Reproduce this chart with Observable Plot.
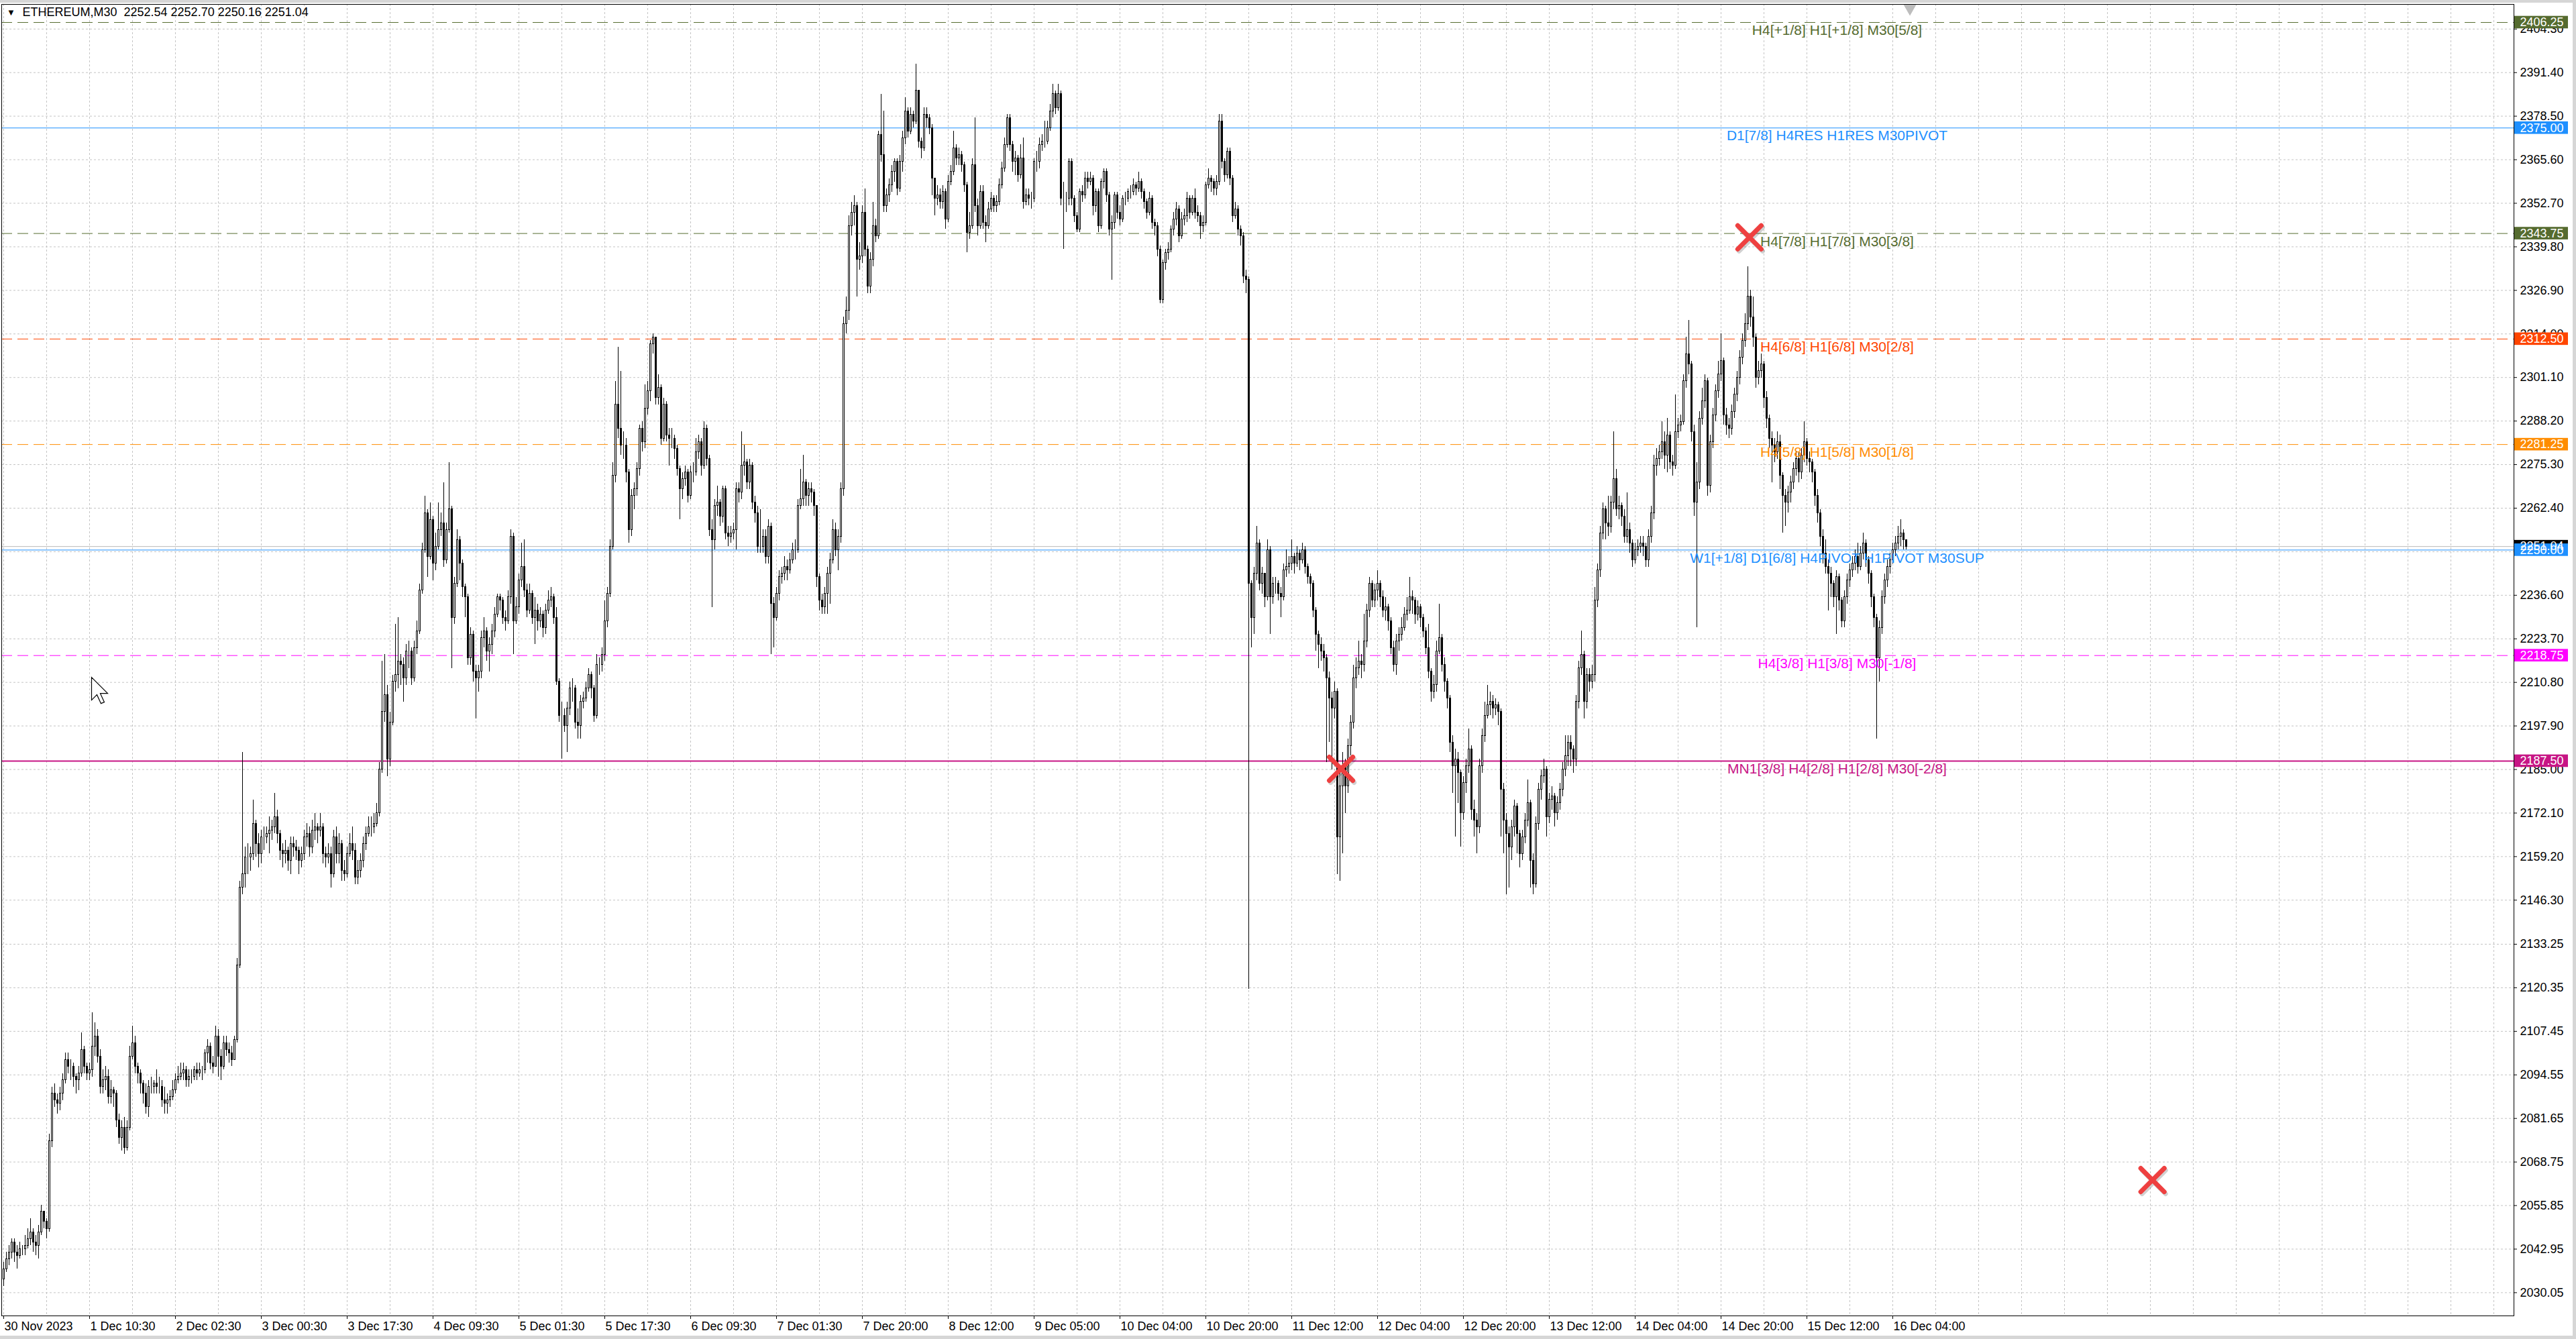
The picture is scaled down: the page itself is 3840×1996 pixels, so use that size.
<!DOCTYPE html>
<html><head><meta charset="utf-8">
<script src="https://cdn.jsdelivr.net/npm/d3@7"></script>
<script src="https://cdn.jsdelivr.net/npm/@observablehq/plot@0.6"></script>
<style>
html,body{margin:0;padding:0;background:#fff;}
#wrap{position:relative;width:3840px;height:1996px;overflow:hidden;background:#fff;}
#wrap svg{display:block;}
.edge{position:absolute;background:#d6d6d6;}
</style></head><body><div id="wrap"></div>
<script>
// ---------- text / labels ----------
const title = "ETHEREUM,M30\u00a0 2252.54 2252.70 2250.16 2251.04";
const timeLabels = ["30 Nov 2023","1 Dec 10:30","2 Dec 02:30","3 Dec 00:30","3 Dec 17:30","4 Dec 09:30","5 Dec 01:30","5 Dec 17:30","6 Dec 09:30","7 Dec 01:30","7 Dec 20:00","8 Dec 12:00","9 Dec 05:00","10 Dec 04:00","10 Dec 20:00","11 Dec 12:00","12 Dec 04:00","12 Dec 20:00","13 Dec 12:00","14 Dec 04:00","14 Dec 20:00","15 Dec 12:00","16 Dec 04:00"];
const candlesPerLabel = 32;
const candlesPerGrid = 16;
const priceTicks = [2404.30,2391.40,2378.50,2365.60,2352.70,2339.80,2326.90,2314.00,2301.10,2288.20,2275.30,2262.40,2249.50,2236.60,2223.70,2210.80,2197.90,2185.00,2172.10,2159.20,2146.30,2133.25,2120.35,2107.45,2094.55,2081.65,2068.75,2055.85,2042.95,2030.05];

// Murrey-math levels
const levelPrices = [2406.25,2375.00,2343.75,2312.50,2281.25,2250.00,2218.75,2187.50];
const levelNames = ["H4[+1/8] H1[+1/8] M30[5/8]","D1[7/8] H4RES H1RES M30PIVOT","H4[7/8] H1[7/8] M30[3/8]","H4[6/8] H1[6/8] M30[2/8]","H4[5/8] H1[5/8] M30[1/8]","W1[+1/8] D1[6/8] H4PIVOT H1PIVOT M30SUP","H4[3/8] H1[3/8] M30[-1/8]","MN1[3/8] H4[2/8] H1[2/8] M30[-2/8]"];
const levelLabelCandle = 683.25;
const bidPrice = 2251.04;

// arrow markers (candle index, price)
const crossCandles = [650.6, 498.4, 800.8];
const crossPrices = [2342.6, 2185.2, 2063.4];
const shiftCandle = 710.4;
const cursorCandle = 32.75, cursorPrice = 2212.3;

// ---------- candles: [close, high, low]; open = previous close ----------
const firstOpen = 2034;
const nov30_dec3 = [
[2037,2039,2032],[2040,2042,2036],[2042,2044,2038],[2045,2046,2040],[2042,2046,2039],[2041,2044,2037],[2043,2045,2040],[2043,2044,2041],[2044,2047,2041],[2046,2049,2043],
[2048,2052,2044],[2045,2049,2042],[2044,2047,2041],[2048,2050,2040],[2054,2056,2047],[2051,2054,2049],[2049,2052,2046],[2075,2077,2048],[2089,2091,2073],[2087,2092,2085],
[2086,2089,2083],[2089,2091,2084],[2093,2095,2087],[2099,2101,2092],[2097,2101,2095],[2097,2099,2093],[2094,2098,2091],[2093,2095,2089],[2095,2097,2090],[2102,2107,2094],
[2097,2103,2095],[2095,2098,2093],[2096,2098,2093],[2103,2113,2094],[2106,2110,2100],[2100,2108,2098],[2091,2102,2089],[2093,2096,2089],[2094,2097,2090],[2088,2096,2086],
[2090,2093,2086],[2089,2091,2085],[2081,2090,2079],[2076,2083,2074],[2079,2081,2072],[2073,2082,2071],[2079,2081,2072],[2100,2103,2078],[2104,2109,2099],[2097,2106,2095],
[2095,2098,2092],[2092,2096,2089],[2089,2093,2086],[2085,2092,2083],[2091,2093,2082],[2091,2094,2089],[2092,2093,2089],[2091,2096,2089],[2091,2094,2089],[2087,2093,2085],
[2086,2091,2083],[2087,2089,2083],[2088,2090,2085],[2090,2093,2087],[2093,2095,2089],[2094,2097,2092],[2095,2098,2093],[2096,2098,2093],[2093,2097,2091],[2094,2096,2091],
[2094,2096,2092],[2096,2097,2093],[2095,2098,2093],[2096,2098,2094],[2096,2097,2093],[2101,2102,2095],[2103,2105,2098],[2098,2104,2096],[2097,2100,2095],[2106,2109,2098],
[2100,2108,2094],[2097,2102,2093],[2104,2106,2096],[2102,2106,2100],[2101,2104,2098],[2099,2103,2097],[2105,2106,2099],[2127,2129,2104],[2150,2152,2126],[2154,2190,2148],
[2159,2162,2150],[2159,2163,2154],[2160,2162,2155],[2169,2176,2158],[2163,2170,2159],[2160,2166,2156],[2165,2167,2157],[2165,2168,2161],[2166,2168,2163],[2167,2171,2160],
[2168,2170,2164],[2171,2178,2166],[2166,2173,2163],[2161,2167,2158],[2160,2163,2156],[2161,2164,2157],[2158,2162,2155],[2163,2165,2154],[2162,2165,2159],[2161,2164,2158],
[2158,2162,2154],[2160,2162,2156],[2165,2167,2158],[2166,2169,2162],[2162,2168,2159],[2167,2170,2160],[2168,2172,2164],[2167,2169,2163],[2168,2172,2165],[2160,2169,2157],
[2159,2162,2156],[2160,2163,2157],[2154,2162,2150],[2165,2167,2153],[2160,2168,2157],[2163,2166,2157],[2155,2164,2152],[2154,2158,2152],[2160,2162,2153],[2163,2166,2159],
[2161,2168,2158],[2153,2163,2151],[2155,2158,2151],[2158,2160,2153],[2163,2165,2156],[2166,2168,2161],[2168,2171,2165],[2168,2171,2165],[2169,2172,2166],[2172,2175,2168],
[2185,2187,2171]
];
const dec3_dec7 = [
[2202,2217,2184],[2207,2219,2199],[2188,2210,2183],[2199,2202,2186],[2211,2213,2198],[2213,2228,2208],[2217,2230,2209],[2216,2219,2210],[2212,2218,2205],[2220,2222,2210],
[2220,2223,2215],[2212,2221,2210],[2221,2223,2211],[2226,2229,2219],[2238,2240,2225],[2250,2252,2237],[2261,2266,2249],[2248,2262,2242],[2259,2264,2247],[2246,2260,2241],
[2251,2255,2244],[2256,2264,2250],[2258,2261,2254],[2247,2270,2245],[2256,2258,2246],[2262,2276,2255],[2230,2263,2215],[2240,2242,2228],[2253,2256,2239],[2246,2254,2241],
[2239,2247,2236],[2236,2240,2230],[2218,2237,2216],[2225,2227,2216],[2214,2226,2211],[2212,2216,2200],[2214,2216,2208],[2224,2226,2212],[2226,2230,2221],[2220,2227,2217],
[2222,2224,2214],[2226,2228,2219],[2231,2233,2224],[2236,2237,2230],[2235,2237,2232],[2230,2236,2228],[2229,2232,2226],[2236,2238,2228],[2254,2256,2234],[2229,2255,2219],
[2233,2236,2228],[2241,2243,2231],[2245,2252,2239],[2238,2253,2236],[2232,2240,2230],[2237,2240,2231],[2230,2238,2228],[2232,2236,2222],[2229,2234,2226],[2231,2233,2227],
[2227,2232,2224],[2232,2234,2225],[2235,2238,2231],[2236,2239,2233],[2230,2237,2228],[2211,2233,2210],[2201,2212,2199],[2201,2205,2188],[2198,2203,2196],[2203,2205,2190],
[2209,2211,2201],[2209,2212,2205],[2199,2210,2197],[2198,2203,2194],[2205,2207,2194],[2206,2208,2203],[2209,2211,2205],[2213,2215,2208],[2209,2214,2206],[2201,2210,2199],
[2216,2219,2200],[2216,2218,2213],[2219,2221,2214],[2229,2235,2217],[2237,2239,2227],[2251,2253,2236],[2272,2276,2250],[2293,2300,2270],[2286,2310,2283],[2281,2303,2278],
[2281,2285,2277],[2273,2283,2270],[2256,2274,2252],[2266,2268,2254],[2268,2270,2262],[2274,2276,2266],[2286,2287,2272],[2282,2288,2279],[2292,2299,2280],[2297,2300,2290],
[2311,2312,2294],[2313,2314,2308],[2295,2313,2293],[2298,2302,2293],[2283,2299,2281],[2293,2295,2282],[2284,2294,2282],[2283,2286,2275],[2283,2286,2280],[2280,2284,2277],
[2274,2281,2272],[2268,2275,2259],[2271,2273,2265],[2273,2275,2269],[2266,2274,2264],[2273,2275,2265],[2273,2276,2270],[2279,2283,2272],[2282,2284,2277],[2275,2283,2272],
[2286,2288,2274],[2277,2287,2275],[2256,2278,2254],[2253,2259,2233],[2263,2265,2250],[2264,2269,2260],[2260,2265,2257],[2268,2269,2258],[2255,2269,2253],[2254,2257,2251],
[2255,2257,2252],[2256,2258,2253],[2268,2270,2250],[2267,2270,2264],[2275,2285,2265],[2276,2281,2272],[2270,2277,2268],[2275,2277,2268],[2264,2276,2262],[2261,2266,2258],
[2251,2263,2249],[2251,2262,2249],[2254,2256,2249],[2248,2256,2246],[2257,2259,2246],[2234,2258,2219],[2230,2236,2221],[2237,2239,2229],[2242,2244,2235],[2243,2245,2240],
[2245,2248,2241],[2244,2247,2241],[2247,2249,2243],[2250,2252,2246],[2250,2253,2247],[2263,2265,2249],[2265,2274,2262],[2270,2278,2263],[2266,2271,2263],[2268,2270,2263],
[2267,2270,2264],[2263,2268,2260],[2242,2248,2239],[2235,2243,2232],[2233,2237,2231],[2237,2239,2231],[2243,2245,2231],[2247,2249,2234],[2256,2259,2246],[2250,2258,2248],
[2254,2256,2244],[2268,2270,2252],[2317,2319,2266],[2321,2325,2314],[2346,2349,2318]
];
const dec7_dec10 = [
[2350,2353,2343],[2352,2355,2346],[2336,2353,2325],[2337,2341,2333],[2350,2352,2335],[2339,2357,2337],[2328,2340,2326],[2336,2338,2326],[2346,2353,2334],[2343,2348,2341],
[2373,2374,2342],[2367,2385,2365],[2352,2380,2350],[2355,2357,2350],[2358,2360,2353],[2362,2364,2356],[2365,2366,2359],[2357,2366,2355],[2365,2367,2356],[2372,2374,2362],
[2380,2384,2370],[2374,2381,2372],[2379,2381,2373],[2377,2380,2375],[2386,2394,2376],[2371,2384,2369],[2369,2372,2366],[2379,2381,2368],[2378,2381,2375],[2375,2379,2373],
[2360,2376,2355],[2354,2360,2349],[2355,2358,2352],[2353,2357,2351],[2356,2358,2351],[2348,2357,2345],[2359,2361,2347],[2362,2364,2358],[2369,2374,2361],[2366,2370,2364],
[2367,2369,2364],[2364,2368,2362],[2358,2365,2356],[2344,2359,2338],[2346,2350,2342],[2364,2366,2345],[2352,2378,2350],[2346,2354,2343],[2356,2358,2345],[2347,2358,2345],
[2346,2349,2341],[2351,2353,2345],[2354,2356,2350],[2352,2355,2350],[2353,2355,2350],[2358,2360,2352],[2363,2365,2357],[2370,2372,2362],[2378,2379,2369],[2370,2379,2368],
[2365,2371,2362],[2366,2368,2361],[2361,2367,2359],[2366,2370,2360],[2353,2372,2351],[2355,2357,2352],[2354,2357,2352],[2354,2356,2351],[2365,2366,2353],[2365,2368,2362],
[2370,2372,2363],[2371,2373,2368],[2371,2377,2369],[2375,2377,2370],[2380,2382,2374],[2385,2388,2378],[2381,2386,2379],[2385,2388,2380],[2354,2386,2352],[2354,2359,2339],
[2354,2356,2350],[2365,2366,2352],[2354,2366,2352],[2349,2355,2347],[2345,2350,2344],[2356,2357,2344],[2355,2358,2353],[2360,2362,2354],[2359,2362,2357],[2360,2362,2358],
[2352,2361,2349],[2356,2357,2350],[2346,2357,2344],[2359,2360,2345],[2362,2363,2357],[2355,2363,2353],[2345,2356,2343],[2347,2349,2330],[2355,2356,2345],[2350,2356,2348],
[2348,2352,2346],[2354,2355,2347],[2354,2356,2352],[2356,2357,2353],[2356,2358,2354],[2358,2360,2355],[2357,2359,2355],[2359,2362,2356],[2356,2360,2354],[2353,2357,2351],
[2350,2354,2348],[2354,2356,2349],[2347,2355,2345],[2346,2348,2343],[2339,2347,2337],[2324,2340,2323],[2335,2336,2323],[2338,2339,2333],[2339,2341,2336],[2345,2346,2338],
[2348,2350,2343],[2351,2353,2346],[2343,2352,2341],[2348,2350,2342],[2349,2351,2346],[2354,2356,2347],[2350,2355,2348],[2354,2355,2349],[2350,2357,2348],[2349,2352,2347],
[2346,2350,2342],[2347,2349,2344],[2358,2359,2346],[2360,2363,2357],[2359,2361,2356],[2357,2360,2355],[2359,2361,2355],[2377,2379,2358],[2365,2379,2363],[2361,2366,2359],
[2368,2369,2360],[2360,2369,2358],[2349,2361,2347],[2351,2353,2348],[2345,2352,2343],[2343,2346,2340],[2331,2344,2329],[2330,2333,2326],[2240,2331,2120],[2230,2241,2221],
[2243,2245,2225],[2252,2257,2241],[2240,2253,2238],[2243,2245,2237],[2236,2243,2233],[2250,2253,2235],[2236,2251,2225],[2240,2242,2234],[2240,2242,2237],[2237,2241,2235],
[2236,2239,2230],[2244,2246,2235],[2245,2250,2242]
];
const dec11_dec16 = [
[2246,2248,2243],[2248,2253,2244],[2246,2249,2243],[2249,2251,2245],[2247,2250,2244],[2250,2252,2246],[2245,2251,2243],[2242,2246,2240],[2240,2243,2236],[2232,2241,2230],
[2225,2233,2220],[2222,2226,2215],[2220,2224,2217],[2218,2222,2214],[2212,2219,2187],[2206,2214,2193],[2203,2208,2185],[2208,2211,2200],[2165,2209,2154],[2180,2185,2152],
[2186,2190,2160],[2180,2188,2172],[2192,2194,2178],[2199,2201,2189],[2212,2216,2197],[2215,2218,2209],[2217,2223,2213],[2216,2219,2212],[2223,2231,2214],[2232,2234,2221],
[2240,2242,2230],[2235,2241,2233],[2238,2240,2233],[2240,2244,2235],[2236,2241,2233],[2232,2238,2230],[2233,2236,2229],[2229,2234,2226],[2221,2230,2219],[2216,2223,2214],
[2223,2225,2213],[2225,2227,2220],[2227,2230,2223],[2231,2233,2226],[2232,2236,2229],[2236,2242,2231],[2235,2238,2231],[2231,2236,2228],[2233,2235,2229],[2230,2234,2227],
[2226,2231,2224],[2221,2227,2219],[2214,2228,2212],[2208,2215,2205],[2210,2213,2206],[2220,2223,2208],[2224,2234,2219],[2216,2225,2214],[2211,2218,2208],[2206,2212,2203],
[2193,2207,2190],[2186,2195,2178],[2188,2191,2165],[2184,2190,2175],[2172,2185,2162],[2181,2183,2170],[2186,2188,2178],[2191,2197,2184],[2173,2192,2170],[2170,2176,2165],
[2168,2172,2160],[2186,2188,2166],[2195,2197,2184],[2201,2205,2193],[2204,2210,2200],[2205,2208,2201],[2203,2207,2200],[2204,2206,2201],[2202,2205,2198],[2179,2203,2165],
[2170,2181,2160],[2166,2172,2148],[2162,2168,2150],[2168,2170,2158],[2174,2176,2165],[2166,2175,2160],[2160,2167,2156],[2165,2167,2158],[2170,2172,2163],[2175,2182,2168],
[2158,2176,2150],[2151,2160,2148],[2169,2171,2150],[2179,2181,2167],[2183,2185,2176],[2185,2188,2181],[2171,2186,2165],[2176,2178,2169],[2177,2180,2173],[2172,2178,2168],
[2175,2177,2170],[2179,2181,2173],[2185,2187,2177],[2189,2195,2183],[2193,2195,2186],[2191,2195,2186],[2188,2192,2184],[2205,2207,2186],[2215,2217,2203],[2219,2226,2213],
[2205,2220,2200],[2213,2215,2203],[2211,2215,2208],[2213,2216,2209],[2235,2239,2211],[2244,2246,2233],[2255,2257,2242],[2262,2264,2253],[2258,2263,2253],[2257,2266,2254],
[2264,2266,2255],[2271,2285,2262],[2262,2274,2260],[2263,2266,2259],[2260,2264,2257],[2254,2262,2252],[2256,2267,2252],[2252,2258,2249],[2247,2253,2245],[2250,2252,2246],
[2251,2253,2248],[2252,2254,2249],[2251,2254,2248],[2247,2252,2245],[2254,2256,2245],[2261,2263,2252],[2275,2278,2259],[2277,2280,2272],[2279,2281,2275],[2282,2288,2277],
[2278,2285,2274],[2284,2289,2273],[2276,2285,2274],[2275,2278,2272],[2285,2296,2274],[2287,2289,2283],[2288,2290,2285],[2300,2302,2287],[2308,2313,2298],[2305,2318,2302],
[2285,2306,2282],[2264,2287,2260],[2270,2276,2227],[2289,2291,2268],[2294,2298,2287],[2300,2302,2292],[2269,2301,2266],[2282,2284,2267],[2290,2292,2280],[2297,2299,2288],
[2302,2306,2295],[2306,2314,2300],[2290,2307,2287],[2287,2292,2284],[2286,2289,2283],[2291,2293,2284],[2296,2298,2289],[2301,2303,2294],[2307,2309,2299],[2312,2314,2305],
[2317,2320,2310],[2325,2334,2315],[2319,2327,2316],[2313,2325,2310],[2301,2314,2298],[2303,2306,2299],[2305,2308,2301],[2295,2306,2292],[2289,2297,2286],[2283,2290,2280],
[2281,2285,2270],[2279,2283,2276],[2282,2285,2277],[2272,2284,2268],[2266,2273,2255],[2264,2268,2257],[2267,2269,2261],[2270,2272,2264],[2274,2276,2268],[2277,2279,2272],
[2273,2279,2270],[2278,2280,2271],[2282,2288,2276],[2277,2283,2275],[2276,2279,2273],[2273,2277,2270],[2266,2274,2263],[2261,2268,2258],[2254,2262,2251],[2249,2256,2246],
[2245,2253,2243],[2243,2247,2232],[2240,2245,2236],[2236,2241,2233],[2242,2244,2225],[2235,2243,2232],[2229,2236,2227],[2236,2238,2227],[2241,2243,2234],[2244,2246,2239],
[2246,2248,2242],[2248,2250,2244],[2245,2252,2243],[2249,2251,2244],[2252,2255,2247],[2247,2253,2245],[2243,2248,2240],[2236,2244,2233],[2230,2237,2227],[2218,2231,2194],
[2227,2229,2211],[2236,2238,2225],[2241,2243,2234],[2245,2247,2239],[2247,2249,2243],[2250,2252,2246],[2252,2254,2248],[2254,2257,2250],[2255,2259,2251],[2253,2256,2250],
[2251.04,2252.70,2250.16]
];

// ---------- build ----------
let prev = firstOpen;
const candles = [].concat(nov30_dec3, dec3_dec7, dec7_dec10, dec11_dec16).map(([c, h, l], i) => {
  const o = prev; prev = c;
  return {i, o, c, h: Math.max(h, o, c), l: Math.min(l, o, c), up: c >= o};
});

const X_DOMAIN = [-0.75, 935.5];
const Y_DOMAIN = [2023.18, 2411.61];
const xMax = X_DOMAIN[1], yTop = Y_DOMAIN[1];

const levelStyles = [
  {color:"#556B2F", dash:"16,8", w:1},
  {color:"#1E90FF", dash:null, w:1},
  {color:"#556B2F", dash:"16,8", w:1},
  {color:"#FF4500", dash:"16,8", w:1},
  {color:"#FF8C00", dash:"16,8", w:1},
  {color:"#1E90FF", dash:null, w:1},
  {color:"#FF00FF", dash:"16,8", w:1},
  {color:"#C71585", dash:null, w:2}
];
const levels = levelPrices.map((p, k) => ({price: p, name: levelNames[k], ...levelStyles[k]}));
const boxes = [
  ...levels.filter(d => d.price !== 2250).map(d => ({price: d.price, color: d.color})),
  {price: bidPrice, color: "#000000"},
  {price: 2250, color: "#1E90FF"}
];
const timeTicks = timeLabels.map((t, k) => ({i: k * candlesPerLabel, t}));
const gridX = d3.range(0, xMax, candlesPerGrid);
const crosses = crossCandles.map((c, k) => ({i: c, p: crossPrices[k]}));

// mouse-pointer glyph (a symbol shape, tip at the anchor)
const pointerSymbol = {
  draw(ctx) {
    const s = 2;
    ctx.moveTo(0, 0); ctx.lineTo(0, 17 * s); ctx.lineTo(4 * s, 13 * s); ctx.lineTo(7 * s, 19.5 * s);
    ctx.lineTo(9.5 * s, 18.5 * s); ctx.lineTo(6.5 * s, 12 * s); ctx.lineTo(12 * s, 12 * s); ctx.closePath();
  }
};

const AX_FONT = "'Liberation Sans', Arial, sans-serif";

const marks = [
  // grid
  Plot.ruleY(priceTicks, {stroke: "#c4c4c4", strokeDasharray: "3,3"}),
  Plot.ruleX(gridX, {stroke: "#c4c4c4", strokeDasharray: "3,3"}),
  // level lines
  ...levels.map(l => Plot.ruleY([l.price], {stroke: l.color, strokeWidth: l.w, strokeDasharray: l.dash || undefined})),
  Plot.ruleY([bidPrice], {stroke: "#b8b8b8"}),
  // candles
  Plot.ruleX(candles, {x: "i", y1: "l", y2: "h", stroke: "#000", shapeRendering: "crispEdges"}),
  Plot.rect(candles, {x1: d => d.i - 0.25, x2: d => d.i + 0.25, y1: "o", y2: "c", fill: d => d.up ? "#fff" : "#000", stroke: "#000", strokeWidth: 1, shapeRendering: "crispEdges"}),
  // level labels
  Plot.text(levels, {x: () => levelLabelCandle, y: "price", text: "name", fill: "color", dy: 12, fontSize: 21, fontFamily: AX_FONT, lineAnchor: "middle", textAnchor: "middle"}),
  // arrow markers
  Plot.dot(crosses, {x: "i", y: "p", symbol: "times", r: 16, stroke: "rgba(0,0,0,0.18)", strokeWidth: 7, strokeLinecap: "round", dx: 2, dy: 3}),
  Plot.dot(crosses, {x: "i", y: "p", symbol: "times", r: 16, stroke: "#ee4040", strokeWidth: 7, strokeLinecap: "round"}),
  // shift marker
  Plot.dot([shiftCandle], {x: d => d, y: () => yTop, symbol: "triangle", rotate: 180, r: 7, fill: "#bdbdbd", stroke: "none", dy: 6}),
  // mouse pointer
  Plot.dot([cursorPrice], {x: () => cursorCandle, y: d => d, symbol: pointerSymbol, fill: "#fff", stroke: "#000", strokeWidth: 1.2}),
  // frame
  Plot.frame({stroke: "#000"}),
  // right price axis
  Plot.ruleY(priceTicks, {x1: xMax, x2: xMax + 1.25, stroke: "#000"}),
  Plot.text(priceTicks, {y: d => d, text: d => d.toFixed(2), frameAnchor: "right", textAnchor: "start", dx: 9, fontSize: 18, fontFamily: AX_FONT, fill: "#000"}),
  // price boxes
  Plot.rect(boxes, {x1: xMax + 0.25, x2: xMax + 20.25, y1: d => d.price - 1.85, y2: d => d.price + 1.85, fill: "color"}),
  Plot.text(boxes, {y: "price", text: d => d.price.toFixed(2), frameAnchor: "right", textAnchor: "start", dx: 9, fontSize: 18, fontFamily: AX_FONT, fill: "#fff"}),
  // time axis
  Plot.ruleX(timeTicks, {x: "i", y1: Y_DOMAIN[0], y2: Y_DOMAIN[0] - 1, stroke: "#000"}),
  Plot.text(timeTicks, {x: "i", text: "t", frameAnchor: "bottom", textAnchor: "start", lineAnchor: "top", dx: 1, dy: 9, fontSize: 18, fontFamily: AX_FONT, fill: "#000"}),
  // title
  Plot.text(["\u25BC"], {frameAnchor: "top-left", text: d => d, dx: 14, dy: 12, fontSize: 13, textAnchor: "middle", lineAnchor: "middle", fill: "#000"}),
  Plot.text([title], {frameAnchor: "top-left", text: d => d, dx: 31, dy: 5, fontSize: 18, fontFamily: AX_FONT, textAnchor: "start", lineAnchor: "top", fill: "#000"})
];

const chart = Plot.plot({
  width: 3840, height: 1996,
  marginLeft: 2, marginRight: 93, marginTop: 6, marginBottom: 35,
  x: {domain: X_DOMAIN, axis: null},
  y: {domain: Y_DOMAIN, axis: null},
  style: {background: "#fff", overflow: "visible", fontFamily: AX_FONT},
  marks
});
const wrap = document.getElementById("wrap");
wrap.appendChild(chart);
for (const [l,t,w,h] of [[0,0,3840,4],[0,1991,3840,5],[3835,0,5,1996]]) {
  const d = document.createElement("div"); d.className = "edge";
  d.style.left = l+"px"; d.style.top = t+"px"; d.style.width = w+"px"; d.style.height = h+"px";
  wrap.appendChild(d);
}
</script></body></html>
